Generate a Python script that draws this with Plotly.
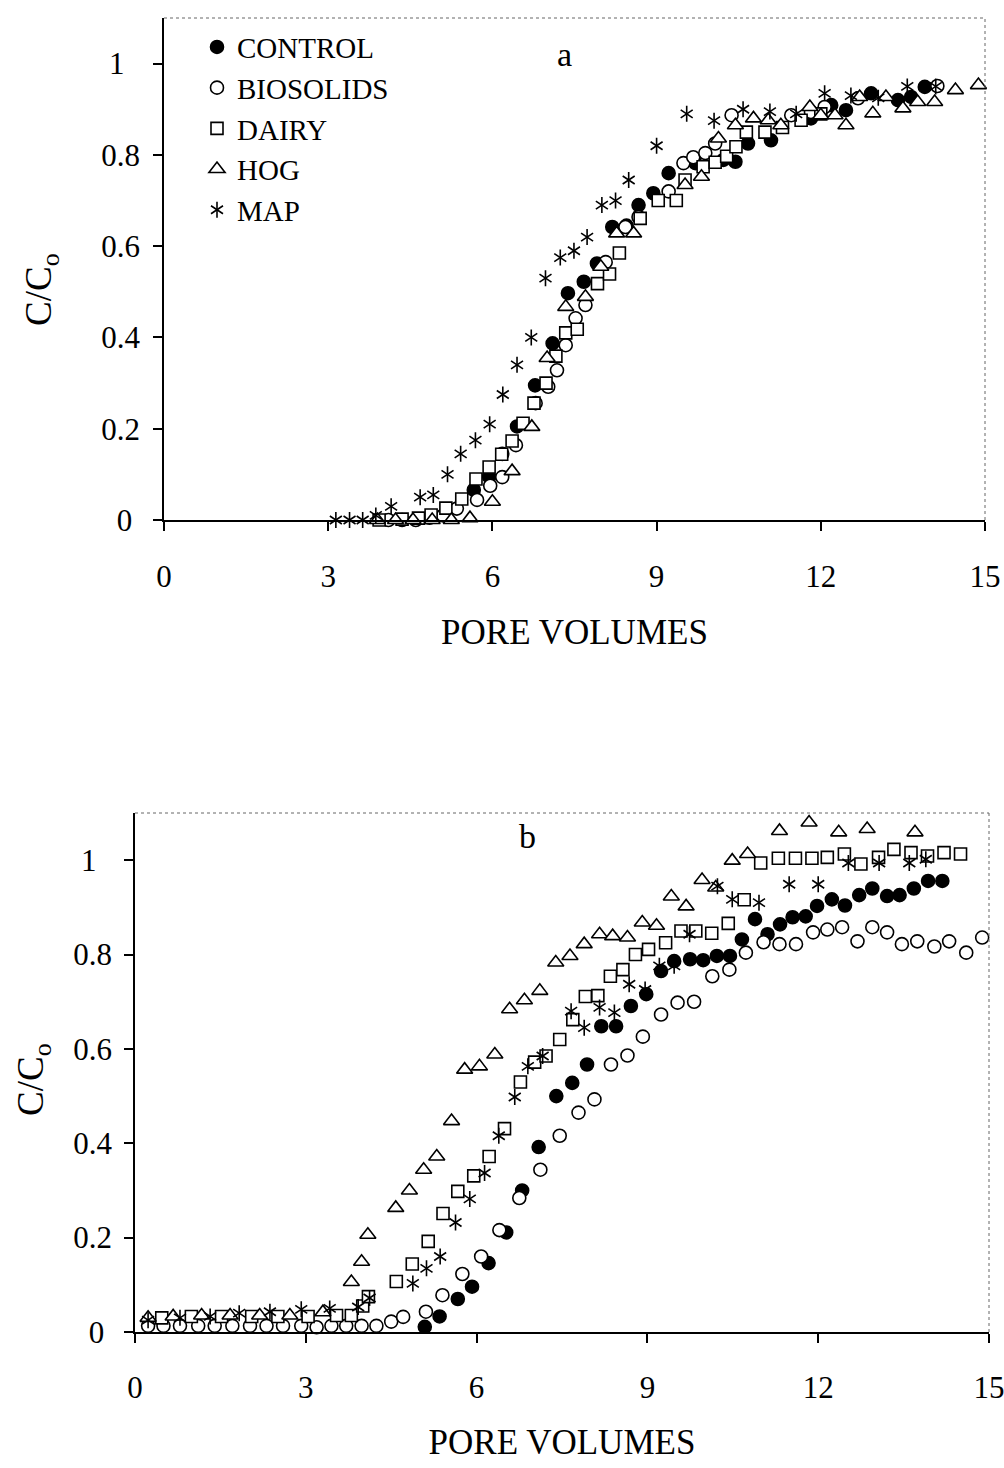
import plotly.graph_objects as go

# ---------------- Panel a: breakthrough curves ----------------
a_control_x = [5.66, 5.94, 6.18, 6.45, 6.78, 7.10, 7.38, 7.67, 7.91, 8.19, 8.45, 8.67, 8.94, 9.22,
               9.71, 10.22, 10.44, 10.67, 11.09, 11.82, 12.19, 12.46, 12.92, 13.41, 13.65, 13.90]
a_control_y = [0.066, 0.095, 0.145, 0.205, 0.295, 0.387, 0.497, 0.522, 0.562, 0.642, 0.645, 0.690,
               0.716, 0.760, 0.782, 0.789, 0.785, 0.825, 0.832, 0.880, 0.909, 0.898, 0.935, 0.920,
               0.927, 0.949]

a_bio_x = [4.10, 4.35, 4.60, 4.85, 5.10, 5.35, 5.72, 5.96, 6.18, 6.43, 6.79, 7.02, 7.18, 7.34, 7.52,
           7.70, 8.07, 8.43, 8.67, 9.22, 9.49, 9.67, 9.89, 10.07, 10.37, 11.46, 11.82, 12.07,
           12.68, 14.13]
a_bio_y = [0.0, 0.0, 0.0, 0.005, 0.01, 0.025, 0.044, 0.075, 0.094, 0.164, 0.256, 0.292, 0.328,
           0.383, 0.442, 0.471, 0.565, 0.642, 0.664, 0.720, 0.782, 0.795, 0.804, 0.825, 0.887,
           0.887, 0.894, 0.905, 0.924, 0.951]

a_dairy_x = [3.93, 4.35, 4.65, 4.88, 5.15, 5.44, 5.70, 5.94, 6.17, 6.36, 6.56, 6.76, 6.98, 7.16,
             7.34, 7.55, 7.92, 8.14, 8.32, 8.70, 9.03, 9.36, 9.52, 9.85, 10.07, 10.28, 10.45,
             10.64, 10.98, 11.30, 11.64, 12.00]
a_dairy_y = [0.0, 0.002, 0.004, 0.011, 0.026, 0.046, 0.090, 0.116, 0.144, 0.173, 0.212, 0.256,
             0.300, 0.359, 0.410, 0.418, 0.518, 0.539, 0.585, 0.661, 0.700, 0.700, 0.745, 0.774,
             0.784, 0.797, 0.818, 0.850, 0.850, 0.860, 0.876, 0.890]

a_hog_x = [3.90, 4.23, 4.55, 4.90, 5.25, 5.59, 6.00, 6.36, 6.72, 7.00, 7.34, 7.70, 7.98, 8.27,
           8.58, 9.52, 9.82, 10.13, 10.44, 10.77, 11.04, 11.27, 11.80, 12.00, 12.26, 12.46,
           12.71, 12.95, 13.19, 13.50, 13.77, 14.08, 14.46, 14.88]
a_hog_y = [0.0, 0.0, 0.0, 0.0, 0.0, 0.004, 0.040, 0.107, 0.204, 0.355, 0.467, 0.489, 0.555,
           0.628, 0.628, 0.734, 0.752, 0.836, 0.865, 0.880, 0.876, 0.865, 0.905, 0.887, 0.887,
           0.865, 0.927, 0.891, 0.927, 0.902, 0.916, 0.916, 0.942, 0.953]

a_map_x = [3.14, 3.39, 3.63, 3.87, 4.15, 4.68, 4.92, 5.18, 5.42, 5.69, 5.95, 6.19, 6.45, 6.71,
           6.97, 7.24, 7.49, 7.73, 8.00, 8.25, 8.49, 9.00, 9.55, 10.05, 10.58, 11.07, 11.55,
           12.07, 12.55, 13.05, 13.58, 14.10]
a_map_y = [0.0, 0.0, 0.0, 0.01, 0.03, 0.05, 0.055, 0.10, 0.145, 0.175, 0.21, 0.275, 0.34, 0.40,
           0.53, 0.575, 0.59, 0.62, 0.69, 0.70, 0.745, 0.82, 0.89, 0.875, 0.90, 0.895, 0.89,
           0.935, 0.93, 0.925, 0.95, 0.95]

# ---------------- Panel b ----------------
b_control_x = [5.09, 5.35, 5.67, 5.92, 6.21, 6.52, 6.80, 7.09, 7.40, 7.68, 7.94, 8.19, 8.45, 8.71,
               8.98, 9.24, 9.47, 9.75, 9.98, 10.22, 10.45, 10.66, 10.89, 11.11, 11.33, 11.55,
               11.78, 11.98, 12.24, 12.47, 12.72, 12.95, 13.21, 13.43, 13.68, 13.93, 14.18]
b_control_y = [0.011, 0.033, 0.070, 0.096, 0.146, 0.211, 0.300, 0.392, 0.500, 0.528, 0.567,
               0.648, 0.648, 0.691, 0.716, 0.765, 0.786, 0.790, 0.788, 0.797, 0.797, 0.832,
               0.875, 0.843, 0.864, 0.879, 0.881, 0.903, 0.917, 0.904, 0.926, 0.940, 0.924,
               0.926, 0.940, 0.956, 0.956]

b_bio_x = [0.23, 0.50, 0.79, 1.11, 1.40, 1.71, 2.02, 2.31, 2.60, 2.92, 3.19, 3.45, 3.71, 3.98,
           4.24, 4.50, 4.71, 5.11, 5.40, 5.75, 6.08, 6.40, 6.75, 7.12, 7.46, 7.79, 8.07, 8.36,
           8.65, 8.92, 9.24, 9.53, 9.82, 10.14, 10.44, 10.73, 11.04, 11.32, 11.61, 11.91,
           12.16, 12.42, 12.69, 12.95, 13.21, 13.47, 13.74, 14.04, 14.30, 14.60, 14.88]
b_bio_y = [0.013, 0.013, 0.013, 0.013, 0.013, 0.013, 0.013, 0.013, 0.013, 0.013, 0.010, 0.013,
           0.013, 0.013, 0.013, 0.022, 0.032, 0.043, 0.078, 0.123, 0.160, 0.216, 0.284, 0.344,
           0.416, 0.465, 0.493, 0.567, 0.586, 0.626, 0.673, 0.698, 0.700, 0.754, 0.768, 0.804,
           0.826, 0.822, 0.822, 0.847, 0.853, 0.858, 0.828, 0.858, 0.847, 0.822, 0.828, 0.817,
           0.828, 0.804, 0.836]

b_dairy_x = [0.47, 0.99, 1.52, 2.05, 2.51, 3.04, 3.54, 3.80, 4.00, 4.10, 4.59, 4.87, 5.15, 5.41,
             5.67, 5.95, 6.22, 6.49, 6.77, 7.02, 7.22, 7.46, 7.69, 7.91, 8.13, 8.35, 8.57, 8.79,
             9.02, 9.32, 9.59, 9.85, 10.13, 10.42, 10.70, 10.99, 11.30, 11.60, 11.89, 12.16,
             12.46, 12.75, 13.06, 13.33, 13.63, 13.92, 14.21, 14.50]
b_dairy_y = [0.030, 0.033, 0.033, 0.033, 0.033, 0.033, 0.035, 0.035, 0.055, 0.075, 0.107,
             0.144, 0.192, 0.251, 0.298, 0.331, 0.372, 0.431, 0.530, 0.572, 0.585, 0.620,
             0.662, 0.711, 0.713, 0.754, 0.768, 0.800, 0.811, 0.825, 0.850, 0.850, 0.845,
             0.866, 0.916, 0.994, 1.004, 1.004, 1.004, 1.006, 1.013, 0.992, 1.006, 1.023,
             1.016, 1.009, 1.016, 1.013]

b_hog_x = [0.23, 0.67, 1.17, 1.67, 2.19, 2.72, 3.30, 3.80, 3.98, 4.09, 4.58, 4.82, 5.07, 5.30,
           5.56, 5.79, 6.05, 6.32, 6.58, 6.84, 7.11, 7.39, 7.64, 7.89, 8.16, 8.39, 8.65, 8.91,
           9.16, 9.42, 9.68, 9.96, 10.20, 10.49, 10.76, 11.32, 11.84, 12.36, 12.86, 13.70]
b_hog_y = [0.030, 0.033, 0.035, 0.035, 0.035, 0.035, 0.042, 0.106, 0.149, 0.206, 0.263, 0.300,
           0.344, 0.372, 0.447, 0.556, 0.563, 0.588, 0.684, 0.703, 0.723, 0.783, 0.797, 0.822,
           0.843, 0.839, 0.836, 0.868, 0.861, 0.923, 0.902, 0.958, 0.942, 0.999, 1.013, 1.062,
           1.080, 1.059, 1.066, 1.059]

b_map_x = [0.23, 0.79, 1.32, 1.83, 2.37, 2.92, 3.42, 3.92, 4.12, 4.88, 5.12, 5.36, 5.63, 5.88,
           6.14, 6.39, 6.67, 6.90, 7.16, 7.66, 7.89, 8.16, 8.42, 8.68, 8.96, 9.21, 9.47, 9.74,
           10.23, 10.49, 10.96, 11.49, 12.00, 12.53, 13.07, 13.60, 13.89]
b_map_y = [0.025, 0.030, 0.033, 0.040, 0.043, 0.048, 0.050, 0.053, 0.072, 0.103, 0.135, 0.160,
           0.232, 0.282, 0.337, 0.416, 0.498, 0.563, 0.585, 0.680, 0.645, 0.688, 0.677, 0.737,
           0.726, 0.776, 0.776, 0.843, 0.945, 0.917, 0.910, 0.949, 0.949, 0.994, 0.994, 0.994,
           1.002]

series_names = ["CONTROL", "BIOSOLIDS", "DAIRY", "HOG", "MAP"]
x_ticks = [0, 3, 6, 9, 12, 15]
y_ticks = [0, 0.2, 0.4, 0.6, 0.8, 1.0]
NB = "\u00a0"
y_tick_text = ["0" + NB, "0.2", "0.4", "0.6", "0.8", "1" + NB * 2]

FONT = "Liberation Serif"
W, H = 1004, 1468
LEGEND_FONT = 29
ROW = LEGEND_FONT * 1.3 + 3  # height of one legend row

fig = go.Figure()


def scatter(x, y, xa, ya, symbol, fill, size, name, show, legend="legend"):
    fig.add_trace(go.Scatter(
        x=x, y=y, mode="markers", xaxis=xa, yaxis=ya, name=name,
        showlegend=show, legend=legend, cliponaxis=False,
        marker=dict(symbol=symbol, size=size, color=fill,
                    line=dict(color="black", width=1.6)),
    ))


panels = [
    ("x", "y", [(a_control_x, a_control_y), (a_bio_x, a_bio_y), (a_dairy_x, a_dairy_y),
                (a_hog_x, a_hog_y), (a_map_x, a_map_y)], True),
    ("x2", "y2", [(b_control_x, b_control_y), (b_bio_x, b_bio_y), (b_dairy_x, b_dairy_y),
                  (b_hog_x, b_hog_y), (b_map_x, b_map_y)], False),
]

for xa, ya, data, show in panels:
    (cx, cy), (bx, by), (dx, dy), (hx, hy), (mx, my) = data
    scatter(cx, cy, xa, ya, "circle", "black", 13, series_names[0], show)
    scatter(bx, by, xa, ya, "circle", "white", 13, series_names[1], show)
    scatter(dx, dy, xa, ya, "square", "white", 12, series_names[2], show)
    scatter(hx, hy, xa, ya, "triangle-up", "white", 14, series_names[3], show)
    # six-armed asterisk: two overlaid three-armed symbols
    scatter(mx, my, xa, ya, "y-up-open", "black", 10, series_names[4], show)
    scatter(mx, my, xa, ya, "y-down-open", "black", 10, series_names[4], show, legend="legend2")


def px_x(p):
    return p / W


def px_y(p):
    return 1 - p / H


axis_common = dict(
    showgrid=False, zeroline=False, showline=True, linecolor="black", linewidth=1.5,
    ticks="outside", ticklen=9, tickwidth=1.5, tickcolor="black", automargin=False,
    ticklabeloverflow="allow",
    tickfont=dict(family=FONT, size=31, color="black"),
)

fig.update_layout(
    width=W, height=H,
    margin=dict(l=0, r=0, t=0, b=0, autoexpand=False),
    paper_bgcolor="white", plot_bgcolor="white",
    font=dict(family=FONT, color="black"),
    xaxis=dict(domain=[px_x(164), px_x(985)], range=[0, 15], tickvals=x_ticks, anchor="y",
               title=dict(text="PORE VOLUMES", font=dict(family=FONT, size=35), standoff=27),
               ticklabelstandoff=19, **axis_common),
    yaxis=dict(domain=[px_y(520), px_y(18)], range=[0, 1.1], tickvals=y_ticks,
               ticktext=y_tick_text, anchor="x", ticklabelstandoff=7, **axis_common),
    xaxis2=dict(domain=[px_x(135), px_x(989)], range=[0, 15], tickvals=x_ticks, anchor="y2",
                title=dict(text="PORE VOLUMES", font=dict(family=FONT, size=35), standoff=26),
                ticklabelstandoff=18, **axis_common),
    yaxis2=dict(domain=[px_y(1332), px_y(813)], range=[0, 1.1], tickvals=y_ticks,
                ticktext=y_tick_text, anchor="x2", ticklabelstandoff=6, **axis_common),
    legend=dict(x=px_x(197), y=px_y(21.6), xanchor="left", yanchor="top",
                bgcolor="rgba(0,0,0,0)", borderwidth=0,
                font=dict(family=FONT, size=LEGEND_FONT, color="black")),
    legend2=dict(x=px_x(197), y=px_y(21.6 + 4 * ROW), xanchor="left", yanchor="top",
                 bgcolor="rgba(0,0,0,0)", borderwidth=0,
                 font=dict(family=FONT, size=LEGEND_FONT, color="rgba(0,0,0,0)")),
    annotations=[
        dict(text="a", x=7.32, y=1.02, xref="x", yref="y", showarrow=False,
             font=dict(family=FONT, size=34)),
        dict(text="b", x=6.89, y=1.05, xref="x2", yref="y2", showarrow=False,
             font=dict(family=FONT, size=34)),
        dict(text="C/C<sub>o</sub>", x=px_x(42), y=px_y(290), xref="paper", yref="paper",
             xanchor="center", yanchor="middle",
             textangle=-90, showarrow=False, font=dict(family=FONT, size=37)),
        dict(text="C/C<sub>o</sub>", x=px_x(33), y=px_y(1080), xref="paper", yref="paper",
             xanchor="center", yanchor="middle",
             textangle=-90, showarrow=False, font=dict(family=FONT, size=37)),
    ],
)

# light dotted frame on the top and right edges of each plot area
shapes = []
for xa, ya in (("x", "y"), ("x2", "y2")):
    shapes.append(dict(type="line", xref=f"{xa} domain", yref=f"{ya} domain",
                       x0=0, x1=1, y0=1, y1=1, line=dict(color="#666", width=1, dash="dot")))
    shapes.append(dict(type="line", xref=f"{xa} domain", yref=f"{ya} domain",
                       x0=1, x1=1, y0=0, y1=1, line=dict(color="#666", width=1, dash="dot")))
fig.update_layout(shapes=shapes)

fig.write_html("out.html")
